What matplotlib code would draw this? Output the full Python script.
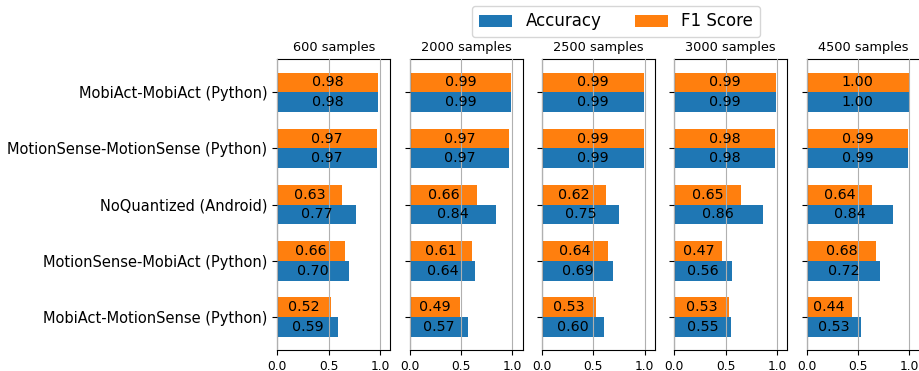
import matplotlib
matplotlib.use("Agg")
import matplotlib.pyplot as plt
import numpy as np

categories = ["MobiAct-MobiAct (Python)", "MotionSense-MotionSense (Python)",
              "NoQuantized (Android)", "MotionSense-MobiAct (Python)",
              "MobiAct-MotionSense (Python)"]
titles = ["600 samples", "2000 samples", "2500 samples", "3000 samples", "4500 samples"]
accuracy = [
    [0.98, 0.97, 0.77, 0.70, 0.59],
    [0.99, 0.97, 0.84, 0.64, 0.57],
    [0.99, 0.99, 0.75, 0.69, 0.60],
    [0.99, 0.98, 0.86, 0.56, 0.55],
    [1.00, 0.99, 0.84, 0.72, 0.53],
]
f1 = [
    [0.98, 0.97, 0.63, 0.66, 0.52],
    [0.99, 0.97, 0.66, 0.61, 0.49],
    [0.99, 0.99, 0.62, 0.64, 0.53],
    [0.99, 0.98, 0.65, 0.47, 0.53],
    [1.00, 0.99, 0.64, 0.68, 0.44],
]

W, H = 919, 371
fig = plt.figure(figsize=(W / 100, H / 100), dpi=100)
y = np.arange(len(categories))[::-1]
h = 0.35
left0, step, aw = 277.3, 132.3, 113
bottom, top = 350, 59.3
handles = None
for i in range(5):
    ax = fig.add_axes([(left0 + i * step) / W, (H - bottom) / H, aw / W, (bottom - top) / H])
    b1 = ax.barh(y - h / 2, accuracy[i], height=h, color="#1f77b4", label="Accuracy")
    b2 = ax.barh(y + h / 2, f1[i], height=h, color="#ff7f0e", label="F1 Score")
    ax.bar_label(b1, fmt="%.2f", label_type="center", fontsize=10.3)
    ax.bar_label(b2, fmt="%.2f", label_type="center", fontsize=10.3)
    ax.set_xlim(0, 1.1)
    ax.set_xticks([0.0, 0.5, 1.0])
    ax.set_xticklabels(["0.0", "0.5", "1.0"])
    ax.tick_params(axis="x", labelsize=8.8)
    ax.set_yticks(y)
    if i == 0:
        ax.set_yticklabels(categories, fontsize=10.5)
    else:
        ax.set_yticklabels([])
    ax.grid(axis="x", color="#b0b0b0")
    ax.set_axisbelow(False)
    ax.set_title(titles[i], fontsize=9.3)
    handles = (b1, b2)

fig.legend(handles, ["Accuracy", "F1 Score"], loc="center", ncol=2,
           bbox_to_anchor=(616 / W, 1 - 21.5 / H), fontsize=12)
fig.savefig("out.png", dpi=100)
